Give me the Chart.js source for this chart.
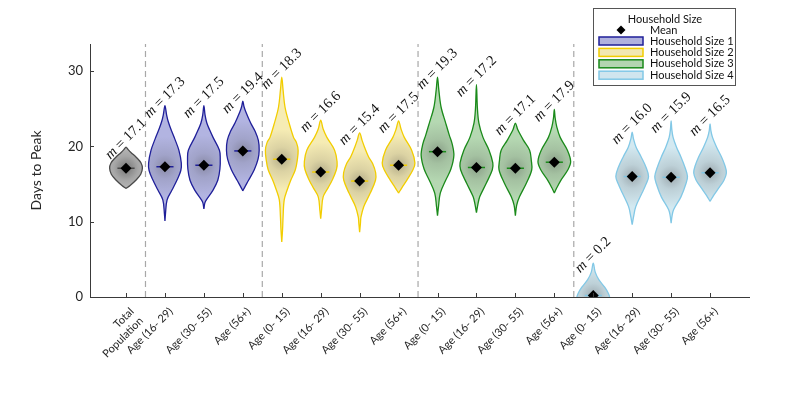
<!DOCTYPE html>
<html><head><meta charset="utf-8">
<script src="https://cdn.jsdelivr.net/npm/chart.js@4.4.1/dist/chart.umd.min.js"></script>
<style>html,body{margin:0;padding:0;background:#fff;}#wrap{width:793px;height:397px;position:relative;}</style>
</head><body><div id="wrap"><canvas id="c" width="793" height="397"></canvas></div>
<script>
// ---------- DATA ----------
const categories = [['Total','Population'],'Age (16- 29)','Age (30- 55)','Age (56+)',
  'Age (0- 15)','Age (16- 29)','Age (30- 55)','Age (56+)',
  'Age (0- 15)','Age (16- 29)','Age (30- 55)','Age (56+)',
  'Age (0- 15)','Age (16- 29)','Age (30- 55)','Age (56+)'];
const householdGroup = [0,1,1,1,2,2,2,2,3,3,3,3,4,4,4,4];
const groupNames = ['Total Population','Household Size 1','Household Size 2','Household Size 3','Household Size 4'];
const meanDays = [17.1,17.3,17.5,19.4,18.3,16.6,15.4,17.5,19.3,17.2,17.1,17.9,0.2,16.0,15.9,16.5];
// density profile of each violin: days (y) and relative half-width
const densityDays = [
  [14.4,14.8,15.5,16.3,17.1,17.8,18.5,19.2,19.6,19.9],
  [10.1,11,12.9,14.2,15.5,16.8,17.8,19.5,21,22.3,23.3,24.2,25.4],
  [11.7,12.5,12.9,14.2,15.5,17,18.5,19.5,21.2,22.2,23.1,24.2,25.4],
  [14.1,14.6,15.5,16.9,18.3,19.5,20.8,22,23.1,24.6,25.3,26.0],
  [7.3,9,10.6,12.9,14.2,15.5,16.9,18.2,19.5,20.5,21.2,23.1,25.2,27.5,29.2],
  [10.4,11.5,13.3,14.5,15.5,17,18,19.5,21.2,22.3,23.5],
  [8.6,9.8,10.6,12,13.8,15.5,16.5,17.7,18.6,19.9,20.8,21.8],
  [13.8,14.5,15.5,16.9,17.8,19.5,21.2,22.3,23.4],
  [10.8,12,13.8,15.5,17,18.8,20.3,21.5,23.1,25.2,27.5,29.2],
  [11.2,12.2,13.3,15.1,16.9,17.8,19.5,21.2,23.1,25,28.2],
  [10.8,12.2,13.3,15.1,16.9,18.2,19.5,20.8,22.2,23.1],
  [13.8,14.5,15.5,16.9,18,19.5,21.2,22.6,23.8,24.9],
  [-0.8,0,0.5,1.3,2.3,3.3,4.5],
  [9.6,10.6,12,13.8,15,16,17.2,18.6,19.9,21,21.9],
  [9.8,10.8,11.6,13.3,15,16,17.2,18.6,19.9,21.2,22.3,23.4],
  [12.7,13.5,14.6,15.5,16.5,17.5,18.6,19.9,21.2,22.1,23]
];
const densityWidth = [
  [0,0.25,0.6,0.9,1,0.92,0.65,0.3,0.12,0],
  [0,0.03,0.13,0.43,0.73,0.97,1.0,0.85,0.6,0.36,0.2,0.1,0],
  [0,0.06,0.15,0.56,0.85,0.98,1.0,0.95,0.56,0.35,0.18,0.07,0],
  [0,0.12,0.35,0.7,0.93,1.0,0.95,0.75,0.48,0.18,0.07,0],
  [0,0.05,0.08,0.15,0.33,0.55,0.83,0.95,1.0,0.9,0.72,0.45,0.2,0.08,0],
  [0,0.05,0.15,0.45,0.7,0.97,1.0,0.85,0.38,0.15,0],
  [0,0.05,0.08,0.25,0.65,0.97,0.98,0.8,0.55,0.3,0.15,0],
  [0,0.2,0.5,0.88,1.0,0.8,0.35,0.15,0],
  [0,0.06,0.17,0.5,0.82,1.0,0.9,0.72,0.5,0.22,0.08,0],
  [0,0.08,0.2,0.6,0.97,1.0,0.77,0.4,0.15,0.06,0],
  [0,0.08,0.25,0.67,1.0,0.97,0.87,0.5,0.15,0],
  [0,0.15,0.4,0.83,1.0,0.8,0.36,0.15,0.05,0],
  [1.0,1.0,0.92,0.7,0.34,0.12,0],
  [0,0.08,0.22,0.6,0.85,1.0,0.85,0.55,0.24,0.08,0],
  [0,0.06,0.15,0.6,0.9,1.0,0.85,0.6,0.33,0.12,0.04,0],
  [0,0.22,0.57,0.85,1.0,0.9,0.7,0.4,0.15,0.05,0]
];
const yTicks = [0,10,20,30];
const groupSeparators = [1.5,4.5,8.5,12.5];

// ---------- STYLE ----------
const edgeColors = ['#4a4a4a','#1f1f99','#f2cd00','#1a8a1a','#82c8e6'];
const fillRGB = [[205,205,205],[182,184,230],[252,241,184],[185,221,182],[216,238,247]];
const HALF = 0.42;
const FONT = 'Lato, "Open Sans", sans-serif';

function mix(rgb, a){ return 'rgb(' + rgb.map(c => Math.round(c*(1-a) + 60*a)).join(',') + ')'; }

const datasets = [];
// separators
groupSeparators.forEach(s => datasets.push({
  type:'line', data:[{x:s,y:0},{x:s,y:33.6}], borderColor:'#a8a8a8', borderWidth:1.2,
  borderDash:[6,4], pointRadius:0, fill:false, order:10
}));
// violins
densityDays.forEach((vals, i) => {
  const c = i + 1, w = densityWidth[i], g = householdGroup[i];
  const pts = [];
  for (let k = 0; k < vals.length; k++) pts.push({x: c + w[k]*HALF, y: vals[k]});
  for (let k = vals.length - 2; k >= 0; k--) pts.push({x: c - w[k]*HALF, y: vals[k]});
  const centerA = g === 0 ? 0.6 : 0.38;
  datasets.push({
    type:'line', data:pts, borderColor:edgeColors[g], borderWidth:1.3, pointRadius:0,
    tension:0.35, fill:'shape', order:5,
    backgroundColor:(ctx) => {
      const ch = ctx.chart, sx = ch.scales.x, sy = ch.scales.y;
      if (!ch.chartArea || !sx) return mix(fillRGB[g],0);
      const px = sx.getPixelForValue(c), py = sy.getPixelForValue(meanDays[i]);
      const gr = ch.ctx.createRadialGradient(px,py,0,px,py,30);
      gr.addColorStop(0, mix(fillRGB[g],centerA));
      gr.addColorStop(0.4, mix(fillRGB[g],centerA*0.45));
      gr.addColorStop(1, mix(fillRGB[g],0.03));
      return gr;
    }
  });
});
// mean lines
meanDays.forEach((m, i) => datasets.push({
  type:'line', data:[{x:i+1-0.22,y:m},{x:i+1+0.22,y:m}], borderColor:edgeColors[householdGroup[i]],
  borderWidth:1.5, pointRadius:0, fill:false, order:3
}));
// mean markers
datasets.push({
  type:'scatter', data:meanDays.map((m,i)=>({x:i+1,y:m})), pointStyle:'rectRot',
  pointRadius:5.5, backgroundColor:'#000', borderColor:'#000', borderWidth:0, order:1
});

const extras = {
  id:'extras',
  afterDatasetsDraw(chart){
    const {ctx, scales:{x, y}} = chart;
    ctx.save();
    // inward ticks
    ctx.strokeStyle = '#3a3a3a'; ctx.lineWidth = 1;
    categories.forEach((_, i) => {
      const px = Math.round(x.getPixelForValue(i+1)) + 0.5;
      ctx.beginPath(); ctx.moveTo(px, y.bottom); ctx.lineTo(px, y.bottom - 4); ctx.stroke();
    });
    yTicks.forEach(v => {
      const py = Math.round(y.getPixelForValue(v)) + 0.5;
      ctx.beginPath(); ctx.moveTo(x.left, py); ctx.lineTo(x.left + 4, py); ctx.stroke();
    });
    // annotations
    ctx.fillStyle = '#111';
    densityDays.forEach((vals, i) => {
      const top = Math.max(...vals);
      const px = x.getPixelForValue(i+1) + 4, py = y.getPixelForValue(top) - 4;
      const t1 = 'm', t2 = ' = ' + meanDays[i].toFixed(1);
      ctx.save();
      ctx.translate(px, py); ctx.rotate(-Math.PI/4);
      ctx.textBaseline = 'alphabetic'; ctx.textAlign = 'left';
      ctx.font = 'italic 14.5px "Liberation Serif", serif';
      const w1 = ctx.measureText(t1).width;
      ctx.font = '14.5px "Liberation Serif", serif';
      const w2 = ctx.measureText(t2).width;
      const x0 = -(w1 + w2)/2;
      ctx.font = 'italic 14.5px "Liberation Serif", serif';
      ctx.fillText(t1, x0, -2);
      ctx.font = '14.5px "Liberation Serif", serif';
      ctx.fillText(t2, x0 + w1, -2);
      ctx.restore();
    });
    ctx.restore();
  },
  afterDraw(chart){
    const ctx = chart.ctx;
    ctx.save();
    const bx = 593, by = 8, bw = 142, bh = 77;
    ctx.fillStyle = '#fff'; ctx.fillRect(bx, by, bw, bh);
    ctx.strokeStyle = '#555'; ctx.lineWidth = 1;
    ctx.strokeRect(bx + 0.5, by + 0.5, bw, bh);
    ctx.fillStyle = '#111'; ctx.font = '11px ' + FONT; ctx.textBaseline = 'middle';
    ctx.textAlign = 'center'; ctx.fillText('Household Size', bx + bw/2 + 1, by + 11);
    ctx.textAlign = 'left';
    // mean entry
    const dy = 30;
    ctx.beginPath(); ctx.moveTo(621, dy - 4.5); ctx.lineTo(625.5, dy); ctx.lineTo(621, dy + 4.5); ctx.lineTo(616.5, dy); ctx.closePath();
    ctx.fillStyle = '#000'; ctx.fill();
    ctx.fillStyle = '#111'; ctx.fillText('Mean', 650, dy);
    for (let k = 1; k <= 4; k++) {
      const cy = 41 + (k-1)*11.4;
      ctx.fillStyle = mix(fillRGB[k], 0.05); ctx.fillRect(599, cy - 4, 44, 8);
      ctx.strokeStyle = edgeColors[k]; ctx.lineWidth = 1.5; ctx.strokeRect(599, cy - 4, 44, 8);
      ctx.fillStyle = '#111'; ctx.fillText(groupNames[k], 650, cy);
    }
    ctx.restore();
  }
};

new Chart(document.getElementById('c'), {
  data:{datasets},
  options:{
    responsive:false, animation:false, devicePixelRatio:1,
    layout:{padding:{left:0,right:44,top:44,bottom:0}},
    plugins:{legend:{display:false}, tooltip:{enabled:false}},
    scales:{
      x:{type:'linear', min:0.075, max:17.0,
        afterBuildTicks:s => { s.ticks = categories.map((c,i) => ({value:i+1})); },
        afterFit:s => { s.height = 100; },
        grid:{display:false, drawTicks:false}, border:{display:true, color:'#3a3a3a', width:1},
        ticks:{autoSkip:false, minRotation:45, maxRotation:45, padding:8, labelOffset:6, color:'#262626',
          font:{family:FONT, size:11}, callback:(v) => categories[v-1]}},
      y:{min:0, max:33.6,
        afterBuildTicks:s => { s.ticks = yTicks.map(v => ({value:v})); },
        afterFit:s => { s.width = 90; },
        grid:{display:false, drawTicks:false}, border:{display:true, color:'#3a3a3a', width:1},
        ticks:{padding:7, color:'#262626', font:{family:FONT, size:13}},
        title:{display:true, text:'Days to Peak', color:'#262626', font:{family:FONT, size:14}, padding:{top:28,bottom:0}}}
    }
  },
  plugins:[extras]
});
</script></body></html>
